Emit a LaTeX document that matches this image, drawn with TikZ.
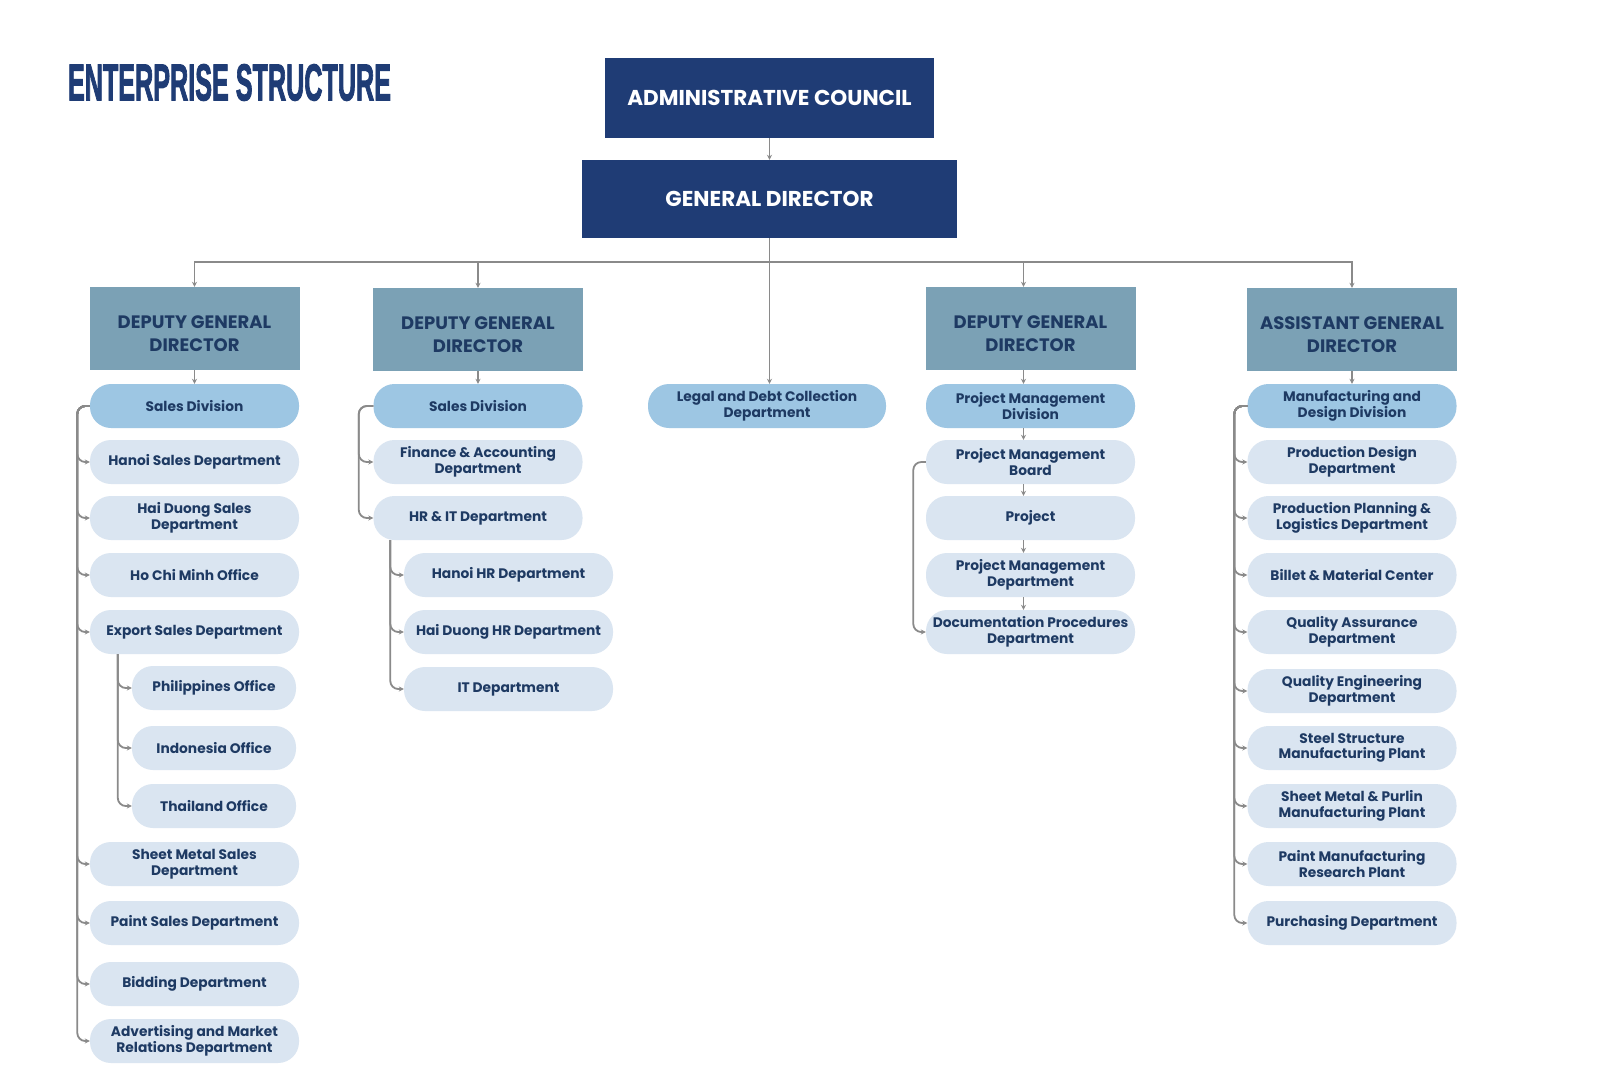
\documentclass[tikz,border=0pt]{standalone}
\usepackage{fontspec}
\setmainfont{Poppins}
\newfontfamily\headfont[UprightFont={* Bold}, FakeBold=2.5]{Liberation Sans}
\usepackage{xcolor}
\usetikzlibrary{positioning, arrows.meta}

\definecolor{navy}{HTML}{1F3C75}
\definecolor{steel}{HTML}{7BA1B5}
\definecolor{midblue}{HTML}{9DC6E3}
\definecolor{paleblue}{HTML}{DAE5F1}
\definecolor{inktext}{HTML}{1E3A63}
\definecolor{linegray}{HTML}{8A8A8A}

% two lines of a director box, set a little low
\newcommand{\headlines}[2]{\raisebox{-7pt}[\height][\depth]{\begin{tabular}{@{}c@{}}#1\\#2\end{tabular}}}

\begin{document}
\begin{tikzpicture}[x=1pt, y=-1pt,
            % --- Styles for the boxes ---
            council/.style={
                fill=navy, text=white, inner sep=0pt,
                font=\bfseries\fontsize{21.5}{26}\selectfont
            },
            deputy/.style={
                fill=steel, text=inktext, inner sep=0pt,
                minimum width=210pt, minimum height=83pt,
                font=\bfseries\fontsize{18}{23.5}\selectfont
            },
            unit/.style={
                fill=paleblue, text=inktext, align=center, inner sep=0pt,
                rounded corners=21pt, minimum width=209pt, minimum height=44pt,
                font=\bfseries\fontsize{13.8}{15.5}\selectfont
            },
            division/.style={unit, fill=midblue},
            office/.style={unit, minimum width=164pt},
            link/.style={
                draw=linegray, line width=1.8pt, rounded corners=8pt,
                -{Stealth[length=5pt, width=5pt]}
            }
        ]

        \useasboundingbox[fill=white] (0,0) rectangle (1600,1070);

        % --- Title ---
        \node[text=navy] (title) at (229.5, 82.5)
            {\resizebox{323pt}{36pt}{\headfont ENTERPRISE STRUCTURE}};

        % --- Top of the chart ---
        \node[council, minimum width=329pt, minimum height=80pt] (ac) at (769.5, 98) {ADMINISTRATIVE COUNCIL};
        \node[council, minimum width=375pt, minimum height=78pt] (gd) at (769.5, 199) {GENERAL DIRECTOR};
        \draw[link] (ac) -- (gd);

        % --- Second level ---
        \node[deputy] (dgd1) at (194.5, 328.5) {\headlines{DEPUTY GENERAL}{DIRECTOR}};
        \node[deputy] (dgd2) at (478, 329.5) {\headlines{DEPUTY GENERAL}{DIRECTOR}};
        \node[deputy] (dgd3) at (1030.5, 328.5) {\headlines{DEPUTY GENERAL}{DIRECTOR}};
        \node[deputy] (agd) at (1352, 329.5) {\headlines{ASSISTANT GENERAL}{DIRECTOR}};
        \node[division, minimum width=238pt] (legal) at (767, 406) {Legal and Debt Collection\\Department};

        \foreach \d in {dgd1, dgd2, agd} {
            \draw[link, rounded corners=0pt] (gd.south) -- ++(0,24) -| (\d.north);
        }
        \draw[link, rounded corners=0pt] (gd.south) -- ++(0,24) -| ([xshift=-7pt]dgd3.north);
        \draw[link] (gd.south) -- (gd.south |- legal.north);

        % --- Column 1: sales ---
        \node[division] (sd1) at (194.5, 406) {Sales Division};
        \node[unit] (hns) at (194.5, 462) {Hanoi Sales Department};
        \node[unit] (hds) at (194.5, 518) {Hai Duong Sales\\Department};
        \node[unit] (hcm) at (194.5, 575) {Ho Chi Minh Office};
        \node[unit] (exs) at (194.5, 632) {Export Sales Department};
        \node[office] (php) at (214, 688) {Philippines Office};
        \node[office] (idn) at (214, 748) {Indonesia Office};
        \node[office] (tha) at (214, 806) {Thailand Office};
        \node[unit] (sms) at (194.5, 864) {Sheet Metal Sales\\Department};
        \node[unit] (pts) at (194.5, 923) {Paint Sales Department};
        \node[unit] (bid) at (194.5, 984) {Bidding Department};
        \node[unit] (adv) at (194.5, 1041) {Advertising and Market\\Relations Department};

        \draw[link] (dgd1) -- (sd1);
        \foreach \c in {hns, hds, hcm, exs, sms, pts, bid, adv} {
            \draw[link] (sd1.west) -- ++(-12.5,0) |- (\c.west);
        }
        \foreach \c in {php, idn, tha} {
            \draw[link] ([xshift=28pt]exs.south west) |- (\c.west);
        }

        % --- Column 2: finance and HR ---
        \node[division] (sd2) at (478, 406) {Sales Division};
        \node[unit] (fin) at (478, 462) {Finance \& Accounting\\Department};
        \node[unit] (hrit) at (478, 518) {HR \& IT Department};
        \node[unit] (hnhr) at (508.5, 575) {Hanoi HR Department};
        \node[unit] (hdhr) at (508.5, 632) {Hai Duong HR Department};
        \node[unit] (itd) at (508.5, 689) {IT Department};

        \draw[link] (dgd2) -- (sd2);
        \foreach \c in {fin, hrit} {
            \draw[link] (sd2.west) -- ++(-14.5,0) |- (\c.west);
        }
        \foreach \c in {hnhr, hdhr, itd} {
            \draw[link] ([xshift=17pt]hrit.south west) |- (\c.west);
        }

        % --- Column 4: projects ---
        \node[division] (pmd) at (1030.5, 406) {Project Management\\Division};
        \node[unit] (pmb) at (1030.5, 462) {Project Management\\Board};
        \node[unit] (prj) at (1030.5, 518) {Project};
        \node[unit] (pmdep) at (1030.5, 575) {Project Management\\Department};
        \node[unit] (doc) at (1030.5, 632) {Documentation Procedures\\Department};

        \draw[link] ([xshift=-7pt]dgd3.south) -- ([xshift=-7pt]pmd.north);
        \foreach \a/\b in {pmd/pmb, pmb/prj, prj/pmdep, pmdep/doc} {
            \draw[link] ([xshift=-7pt]\a.south) -- ([xshift=-7pt]\b.north);
        }
        \draw[link] (pmb.west) -- ++(-12.5,0) |- (doc.west);

        % --- Column 5: manufacturing ---
        \node[division] (mdd) at (1352, 406) {Manufacturing and\\Design Division};
        \node[unit] (pdd) at (1352, 462) {Production Design\\Department};
        \node[unit] (ppl) at (1352, 518) {Production Planning \&\\Logistics Department};
        \node[unit] (bmc) at (1352, 575) {Billet \& Material Center};
        \node[unit] (qad) at (1352, 632) {Quality Assurance\\Department};
        \node[unit] (qed) at (1352, 691) {Quality Engineering\\Department};
        \node[unit] (ssp) at (1352, 748) {Steel Structure\\Manufacturing Plant};
        \node[unit] (smp) at (1352, 806) {Sheet Metal \& Purlin\\Manufacturing Plant};
        \node[unit] (pmr) at (1352, 864) {Paint Manufacturing\\Research Plant};
        \node[unit] (pur) at (1352, 923) {Purchasing Department};

        \draw[link] (agd) -- (mdd);
        \foreach \c in {pdd, ppl, bmc, qad, qed, ssp, smp, pmr, pur} {
            \draw[link] (mdd.west) -- ++(-13,0) |- (\c.west);
        }

        \end{tikzpicture}
\end{document}
